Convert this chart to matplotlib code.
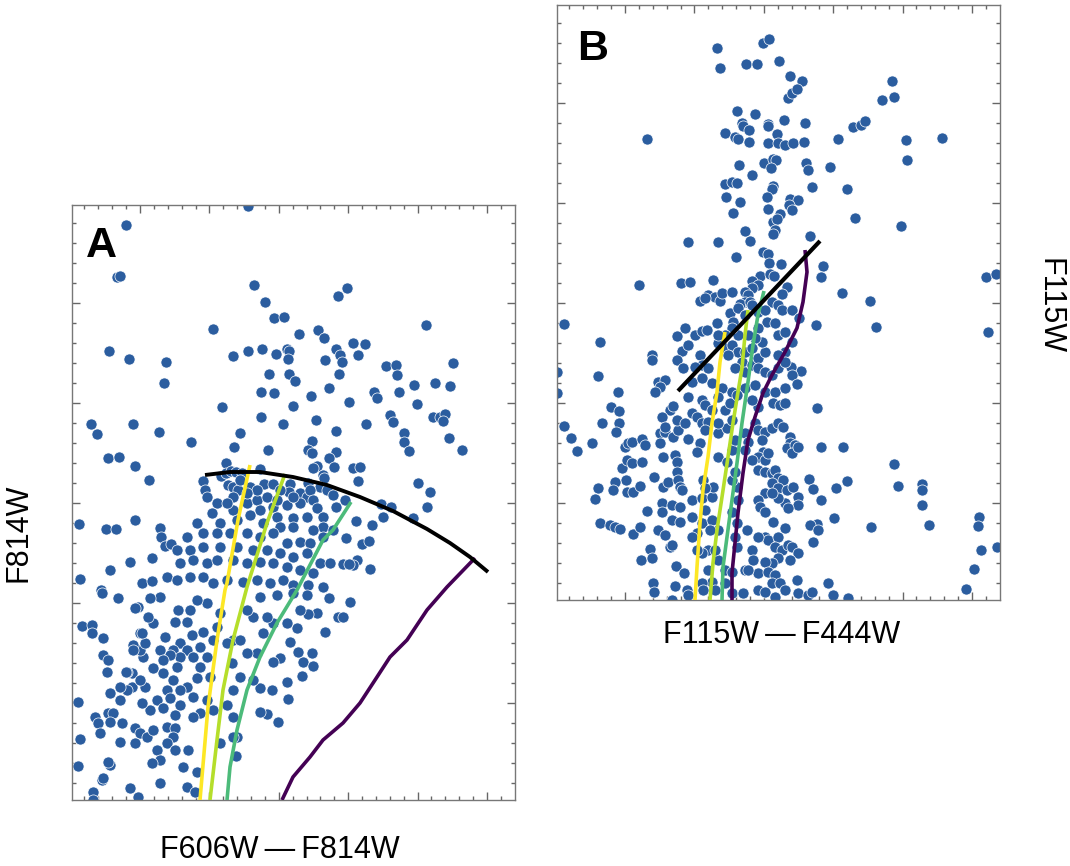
import numpy as np
import matplotlib
matplotlib.use("Agg")
import matplotlib.pyplot as plt
from matplotlib.ticker import FixedLocator, NullFormatter

# ---------------- data (arbitrary units: colour, magnitude) ----------------
pts_a = [
(2.48,19.06),(1.26,19.25),(1.17,19.77),(1.20,19.76),(2.54,19.85),(2.65,20.02),(3.38,19.96),(3.47,19.88),
(2.74,20.18),(2.84,20.17),(2.13,20.29),(2.99,20.34),(3.18,20.30),(3.24,20.38),(4.26,20.25),(1.09,20.51),
(1.29,20.59),(1.66,20.62),(1.64,20.83),(2.33,20.56),(2.48,20.51),(2.62,20.49),(2.76,20.54),(2.87,20.49),
(2.89,20.51),(2.88,20.59),(2.69,20.74),(2.89,20.74),(2.95,20.81),(3.36,20.49),(3.40,20.55),(3.42,20.62),
(3.25,20.60),(3.39,20.74),(3.53,20.43),(3.65,20.44),(3.58,20.55),(3.29,20.88),(3.86,20.66),(3.96,20.65),
(3.97,20.75),(4.14,20.85),(4.35,20.83),(4.50,20.86),(4.53,20.63),(2.61,20.92),(2.74,20.93),(3.11,20.96),
(3.74,20.92),(3.99,20.92),
(3.77,20.98),(2.22,21.07),(2.93,21.06),(3.49,21.02),(4.17,21.04),(0.91,21.24),(0.97,21.34),(1.33,21.24),
(1.59,21.32),(1.91,21.42),(2.61,21.17),(2.83,21.24),(3.16,21.20),(3.66,21.24),(3.90,21.15),(3.93,21.22),
(4.33,21.17),(4.40,21.17),(4.45,21.14),(4.43,21.21),(4.49,21.38),(4.62,21.50),(4.04,21.33),(4.04,21.42),
(4.09,21.51),(3.36,21.31),(3.12,21.41),(3.08,21.50),(3.12,21.53),(3.36,21.52),(3.29,21.58),(2.40,21.33),
(2.34,21.47),(2.68,21.50),(1.08,21.58),(1.19,21.57),(1.35,21.66),(1.49,21.80),(2.26,21.63),(3.17,21.66),
(3.13,21.68),(3.34,21.67),(3.53,21.68),(3.60,21.67),(3.58,21.81),(3.23,21.75),(3.24,21.78),(4.18,21.83),
(4.30,21.92),(4.27,22.07),(3.81,22.04),(3.91,22.07),(3.83,22.17),(4.13,22.18),(0.79,22.24),(1.06,22.29),
(1.16,22.29),(1.35,22.20),(0.80,22.79),(1.10,22.70),(1.30,22.62),(1.52,22.58),(1.42,22.83),(1.52,22.81),
(1.60,22.28),(1.61,22.37),(1.65,22.46),(1.71,22.44),(3.45,22.00),(3.36,22.07),(3.56,22.21),(3.72,22.25),
(3.46,22.38),(3.62,22.44),(3.69,22.41),(3.57,22.60),(3.53,22.65),(3.43,22.64),(3.49,22.64),(3.70,22.69),
(2.03,21.81),(2.21,21.76),(2.26,21.73),(2.31,21.71),(2.36,21.72),(2.42,21.73),(2.60,21.69),(2.28,21.85),
(2.33,21.87),(2.38,21.90),(2.64,21.84),(2.73,21.84),(2.90,21.84),(2.89,21.92),(2.80,21.90),(3.08,21.83),
(3.20,21.87),(3.27,21.90),(3.00,21.93),(3.07,21.97),(3.33,21.95),(3.10,21.90),(2.05,21.90),(2.07,21.97),
(2.17,22.03),(2.12,22.13),(2.33,22.10),(2.47,22.03),(2.57,22.00),(2.60,22.10),(2.73,22.07),(2.87,22.05),
(3.00,22.03),(3.13,22.00),(3.17,22.08),(2.77,22.17),(2.93,22.18),(3.07,22.17),(3.23,22.17),(3.23,22.27),
(3.33,22.30),(3.13,22.30),(2.93,22.27),(2.80,22.27),(2.63,22.23),(2.50,22.15),(2.37,22.20),(2.20,22.23),
(1.97,22.23),(2.03,22.33),(2.17,22.33),(2.30,22.33),(2.47,22.33),(2.60,22.37),(2.73,22.33),(2.87,22.43),
(3.00,22.42),(3.10,22.43),(3.23,22.37),(1.87,22.37),(1.77,22.50),(1.90,22.50),(2.03,22.47),(2.20,22.47),
(2.37,22.47),(2.53,22.50),(2.67,22.50),(2.80,22.53),(2.93,22.57),(3.07,22.53),(3.20,22.63),(3.30,22.63),
(1.80,22.63),(1.93,22.60),(2.07,22.63),(2.17,22.60),(2.33,22.60),(2.47,22.63),(2.60,22.62),(2.73,22.63),
(2.87,22.67),(3.00,22.70),(3.13,22.73),(1.67,22.77),(1.77,22.80),(1.90,22.77),(2.03,22.77),(2.13,22.83),
(2.27,22.80),(2.43,22.82),(2.57,22.80),(2.70,22.83),(2.83,22.80),(2.93,22.85),(3.08,22.85),(3.23,22.87),
(2.40,21.80),(2.50,21.87),(2.57,21.90),(2.47,21.93),(2.33,21.97),(2.27,22.03),(2.67,21.97),(2.77,22.00),
(2.93,21.97),(1.01,22.90),
(3.50,23.02),(3.38,23.17),(3.43,23.17),(3.25,23.32),(3.12,23.53),(3.03,23.62),(3.13,23.66),(3.02,23.76),
(2.98,23.52),(2.87,23.82),(2.88,23.99),(2.78,24.22),(2.67,24.14),(2.60,24.12),(3.29,22.98),(3.17,23.13),
(3.08,23.14),(3.00,23.10),(2.97,23.28),(2.90,23.42),(2.80,23.58),(2.73,23.62),(2.72,23.90),(2.60,23.88),
(2.53,23.80),(2.57,23.53),(2.47,23.53),(2.63,23.33),(2.73,23.23),(2.87,23.23),(2.67,23.17),(2.53,23.17),
(2.47,23.10),(2.60,22.97),(2.77,22.95),(2.93,22.93),(3.07,22.95),(2.33,23.40),(2.40,23.40),(2.27,23.43),
(2.32,23.63),(2.40,23.77),(2.33,23.90),(2.27,24.05),(2.33,24.17),(2.37,24.37),(2.33,24.37),(2.36,24.56),
(2.20,24.43),(2.17,23.27),(2.13,23.40),(2.20,23.13),(2.07,23.03),(1.97,23.00),(1.90,23.10),(1.87,23.22),
(2.03,23.32),(1.92,23.35),(1.80,23.43),(1.73,23.50),(1.87,23.50),(2.00,23.47),(2.07,23.57),(1.93,23.57),
(1.80,23.57),(1.70,23.55),(1.60,23.50),(1.63,23.60),(1.77,23.67),(2.00,23.67),(2.10,23.77),(1.97,23.78),
(1.87,23.87),(1.73,23.80),(1.63,23.73),(1.53,23.68),(1.43,23.57),(1.40,23.50),(1.33,23.45),(1.45,23.43),
(1.65,23.37),(1.53,23.23),(1.40,23.33),(1.75,23.22),(1.78,23.10),(1.60,22.97),(1.48,23.17),(1.38,23.07),
(1.50,22.98),(1.67,23.90),(1.57,24.00),(1.70,23.98),(1.80,23.90),(1.93,23.97),(2.07,24.00),(2.13,24.10),
(2.00,24.13),(1.93,24.17),(1.80,24.05),(1.75,24.15),(1.63,24.08),(1.50,24.10),(1.42,24.03),(1.32,23.87),
(1.45,23.87),(1.32,23.73),(1.40,23.80),(1.27,23.72),(1.10,23.93),(1.20,24.00),(1.08,24.13),(1.13,24.13),
(0.95,24.17),(0.98,24.23),(1.10,24.22),(1.22,24.23),(1.00,24.33),(1.20,24.42),(1.35,24.28),(1.40,24.33),
(1.47,24.37),(1.35,24.43),(1.53,24.30),(1.67,24.27),(1.75,24.28),(1.73,24.37),(1.67,24.43),(1.57,24.50),
(1.60,24.60),(1.52,24.63),(1.75,24.50),(1.88,24.50),(1.83,24.67),(1.97,24.72),(1.87,24.87),(1.95,24.92),
(1.60,24.83),(1.38,24.97),(1.30,24.88),(1.10,24.65),(1.08,24.62),(1.02,24.80),(1.03,24.78),(0.93,24.92),
(0.93,25.00),(0.78,24.66),(0.80,24.39),(0.78,24.02),(0.82,23.26),(0.92,23.25),(0.92,23.33),(1.03,23.38),
(1.03,23.55),(1.08,23.60),(1.07,23.72),(1.26,23.72),(1.33,23.50),(1.42,23.33),(1.35,23.08),(1.18,22.98),
(1.02,22.93),(1.27,23.90),(1.20,23.87),
]

pts_b = [
(2.32,19.48),(2.35,19.68),(2.78,19.43),(2.84,19.39),(2.61,19.64),(2.72,19.64),(2.94,19.61),(3.05,19.76),
(3.17,19.81),(3.03,19.98),(3.07,19.93),(3.12,19.89),(4.07,19.81),(3.97,20.00),(4.09,19.97),(1.62,20.39),
(2.52,20.11),(2.70,20.14),(2.57,20.23),(2.58,20.26),(2.64,20.30),(2.40,20.33),(2.50,20.37),(2.53,20.39),
(2.64,20.42),(2.83,20.24),(2.83,20.26),(2.99,20.20),(3.20,20.23),(2.92,20.34),(2.83,20.43),(2.93,20.43),
(3.00,20.45),(3.08,20.43),(3.19,20.42),(3.53,20.39),(3.68,20.27),(3.76,20.25),(3.80,20.21),(4.21,20.40),
(4.57,20.38),(4.22,20.60),(2.54,20.65),(2.67,20.75),(2.79,20.63),(2.88,20.59),(2.91,20.60),(2.86,20.68),
(3.21,20.63),(3.23,20.70),(3.45,20.67),(2.40,20.84),(2.47,20.82),(2.52,20.83),(2.88,20.86),(2.87,20.89),
(3.27,20.87),(3.62,20.89),(2.41,20.97),(2.82,20.97),(3.05,20.99),(3.13,21.00),(2.55,21.02),
(2.48,21.13),(2.83,21.09),(2.95,21.14),(3.04,21.05),(3.07,21.10),(3.70,21.18),(4.16,21.26),(2.88,21.22),
(2.92,21.19),(2.60,21.31),(2.65,21.41),(2.90,21.30),(2.88,21.34),(2.03,21.42),(2.33,21.42),(3.25,21.36),
(2.51,21.57),(2.78,21.52),(2.83,21.54),(2.84,21.63),(2.96,21.64),(3.38,21.66),(3.36,21.77),(2.75,21.76),
(2.85,21.74),(2.89,21.76),(2.67,21.81),(2.73,21.85),(2.67,21.88),(3.02,21.87),(1.54,21.85),(1.96,21.83),
(2.05,21.82),(2.28,21.80),(2.23,21.95),(2.30,21.97),(2.35,22.01),(2.15,22.01),(2.20,21.98),(2.37,21.93),
(2.47,21.92),(2.60,21.92),(2.63,21.95),(2.60,22.02),(2.55,22.04),(2.65,22.02),(3.57,21.93),(3.85,22.01),
(2.97,21.94),(2.87,22.02),(2.93,22.05),(2.97,22.10),(3.07,22.10),(5.01,21.77),(5.11,21.74),(0.79,22.24),
(1.15,22.42),(1.13,22.76),(1.33,22.92),(0.72,22.72),(1.67,22.55),(1.67,22.60),(1.92,22.36),(2.00,22.28),
(2.10,22.35),(2.17,22.31),(2.22,22.30),(2.32,22.23),(2.45,22.13),(2.48,22.22),(2.53,22.08),(2.60,22.15),
(2.67,22.05),(2.73,22.12),(2.80,22.10),(2.82,22.22),(2.73,22.28),(2.90,22.23),(2.93,22.35),(3.00,22.32),
(3.07,22.42),(3.00,22.52),(2.93,22.55),(3.14,22.18),(3.31,22.25),(3.91,22.27),(5.03,22.32),(3.16,22.71),
(3.06,22.67),(3.07,22.75),(3.12,22.84),(1.97,22.51),(2.03,22.45),(2.15,22.55),(2.17,22.65),(2.23,22.68),
(1.92,22.60),(1.98,22.68),(2.10,22.67),(2.33,22.43),(2.40,22.48),(2.47,22.45),(2.53,22.52),(2.43,22.55),
(2.57,22.62),(2.50,22.68),(2.60,22.72),(2.67,22.65),(2.73,22.58),(2.80,22.52),(2.77,22.42),(2.70,22.38),
(2.63,22.35),(2.53,22.35),(2.47,22.28),(2.40,22.35),(2.33,22.35),(2.60,22.52),(2.67,22.48),(2.73,22.68),
(2.80,22.72),(2.87,22.75),(2.93,22.68),(3.00,22.62),(1.73,22.82),(1.80,22.80),(1.75,22.87),(2.07,22.82),
(2.17,22.78),(2.27,22.83),(2.37,22.88),(2.47,22.92),(2.60,22.88),(2.70,22.85),(2.80,22.92),(2.90,22.92),
(3.00,22.88),(1.70,22.92),
(0.72,22.93),(0.79,23.26),(0.86,23.38),(0.92,23.51),(1.07,23.43),(1.26,23.07),(1.34,23.11),(1.34,23.23),
(1.31,23.32),(1.17,23.23),(1.40,23.47),(1.43,23.43),(1.47,23.42),(1.57,23.39),(1.60,23.45),(1.37,23.68),
(1.42,23.60),(1.47,23.63),(1.57,23.62),(1.41,23.80),(1.30,23.82),(1.28,23.90),(1.13,23.88),(1.10,23.99),
(1.15,24.23),(1.42,23.92),(1.48,23.92),(1.55,23.86),(1.25,24.25),(1.30,24.27),(1.35,24.29),(1.48,24.34),
(1.55,24.27),(1.65,24.49),(1.56,24.60),(1.67,24.58),(1.62,24.11),(1.69,23.77),(1.78,23.87),(1.83,23.82),
(1.77,24.03),(1.87,24.05),(1.95,24.07),(1.77,24.12),(1.73,24.30),(1.80,24.35),(1.87,24.20),(1.95,24.22),
(1.85,24.47),(1.87,24.45),(1.91,24.66),(1.99,24.73),(1.68,24.83),(1.69,24.92),(1.90,24.86),(2.02,24.90),
(2.03,24.95),(1.87,25.00),(1.75,23.33),(1.75,23.43),(1.80,23.32),(1.88,23.37),(1.93,23.30),(2.03,23.39),
(2.15,23.43),(2.12,23.52),(1.78,23.57),(1.90,23.55),(1.92,23.62),(1.92,23.72),(1.93,23.80),(1.95,23.87),
(1.97,23.90),(1.85,23.10),(1.88,23.06),(1.77,23.17),(1.80,23.27),(1.92,23.20),(2.00,23.23),(2.07,23.13),
(2.12,23.17),(2.17,23.23),(2.23,23.22),(2.17,23.00),(2.03,22.97),(2.20,23.05),(2.20,23.30),(2.33,23.33),
(2.07,24.00),(2.17,23.98),(2.27,23.97),(2.20,24.10),(2.07,24.17),(2.17,24.23),(2.12,24.33),(2.07,24.37),
(2.27,24.20),(2.33,24.30),(2.25,24.30),(2.18,23.80),(2.28,23.87),(2.20,23.88),(2.33,23.57),(2.23,24.50),
(2.17,24.53),(2.33,24.60),(2.30,24.50),(2.12,24.50),(2.23,24.70),(2.27,24.82),(2.17,24.83),(2.18,24.90),
(2.30,24.90),(2.40,24.83),(2.40,24.70),(2.47,24.72),(2.47,24.93),(2.58,24.93),(2.60,24.70),(2.52,24.47),
(2.50,24.37),(2.52,24.23),(2.47,24.12),(2.53,24.00),(2.52,23.87),(2.47,23.80),(2.50,23.72),(2.42,23.62),
(2.47,23.50),(2.50,23.40),(2.42,23.28),(2.47,23.20),(2.40,23.10),(2.45,23.03),(2.33,22.97),(2.52,22.95),
(2.33,23.23),(2.27,23.10),(2.70,23.23),(2.73,23.30),(2.80,23.32),(2.87,23.28),(2.93,23.23),(2.98,23.27),
(3.05,23.37),(3.05,23.43),(3.02,23.48),(3.10,23.45),(3.07,23.53),(3.13,23.47),(2.88,23.03),(2.95,23.05),
(3.00,23.03),(2.73,23.07),(2.67,23.00),(2.77,23.40),(2.78,23.52),(2.73,23.57),(2.80,23.60),(2.83,23.53),
(2.73,23.70),(2.80,23.72),(2.87,23.73),(2.90,23.70),(2.93,23.78),(2.98,23.80),(2.87,23.83),(2.93,23.88),
(3.02,23.90),(3.08,23.87),(3.13,23.97),(3.13,24.05),(3.00,24.03),(3.03,24.08),(2.93,23.98),(2.80,23.93),
(2.87,23.93),(2.73,24.00),(2.75,24.07),(2.80,24.12),(2.88,24.22),(3.00,24.28),(2.80,24.37),(2.83,24.40),
(2.93,24.37),(2.90,24.47),(2.97,24.50),(3.03,24.45),(3.07,24.47),(3.13,24.53),(3.05,24.60),(2.93,24.58),
(2.87,24.63),(2.80,24.62),(2.73,24.73),(2.83,24.72),(2.90,24.75),(2.87,24.83),(2.95,24.83),(2.73,24.90),
(2.80,24.92),(2.90,24.97),(3.00,24.90),(3.12,24.80),(3.13,24.93),(3.23,24.95),(3.27,24.92),(3.43,24.83),
(3.48,24.95),(3.63,24.98),(2.60,23.33),(2.63,23.42),(2.60,23.50),(2.67,23.60),(2.73,24.37),(2.67,24.50),
(2.68,24.60),(2.63,24.70),(2.62,24.30),(3.24,23.79),(3.28,23.89),(3.36,24.00),(3.32,24.24),(3.25,24.25),
(3.33,24.30),(3.28,24.42),(3.49,24.18),(3.36,23.47),(3.58,23.47),(3.32,23.08),(3.51,23.88),(3.62,23.81),
(3.86,24.27),(4.09,23.64),(4.13,23.86),(4.37,23.84),(4.37,23.90),(4.37,24.05),(4.44,24.25),(4.94,24.17),
(4.93,24.26),(5.12,24.47),(4.96,24.50),(4.89,24.69),(4.81,24.89),
]

# model curves, panel A
a_edge_x   = [2.05, 2.30, 2.60, 2.93, 3.27, 3.60, 3.93, 4.27, 4.50, 4.70, 4.88]
a_edge_y   = [21.75, 21.72, 21.72, 21.77, 21.85, 21.97, 22.11, 22.29, 22.43, 22.57, 22.72]
a_yel_x    = [2.50, 2.38, 2.27, 2.25, 2.17, 2.08, 2.00]
a_yel_y    = [21.65, 22.20, 22.83, 22.90, 23.40, 24.07, 25.00]
a_lgr_x    = [2.85, 2.67, 2.47, 2.33, 2.23, 2.17, 2.10]
a_lgr_y    = [21.74, 22.23, 22.87, 23.40, 23.90, 24.40, 25.00]
a_grn_x    = [3.51, 3.33, 3.23, 2.97, 2.77, 2.60, 2.47, 2.37, 2.30, 2.27]
a_grn_y    = [22.02, 22.30, 22.40, 22.90, 23.23, 23.57, 23.90, 24.30, 24.67, 25.00]
a_pur_x    = [4.75, 4.47, 4.27, 4.07, 3.90, 3.77, 3.60, 3.43, 3.23, 3.10, 2.93, 2.82]
a_pur_y    = [22.58, 22.87, 23.10, 23.40, 23.57, 23.77, 24.03, 24.23, 24.40, 24.57, 24.77, 25.00]

# model curves, panel B
b_edge_x   = [1.93, 3.35]
b_edge_y   = [22.91, 21.41]
b_yel_x    = [2.40, 2.35, 2.32, 2.27, 2.23, 2.18, 2.15, 2.12, 2.10]
b_yel_y    = [22.32, 22.62, 22.92, 23.23, 23.57, 23.90, 24.23, 24.67, 25.00]
b_lgr_x    = [2.63, 2.60, 2.57, 2.53, 2.48, 2.43, 2.37, 2.32, 2.28, 2.25]
b_lgr_y    = [22.10, 22.35, 22.68, 22.92, 23.23, 23.57, 23.97, 24.30, 24.63, 25.00]
b_grn_x    = [2.79, 2.73, 2.68, 2.63, 2.57, 2.52, 2.47, 2.42, 2.38, 2.37]
b_grn_y    = [21.91, 22.15, 22.45, 22.82, 23.23, 23.63, 24.00, 24.37, 24.67, 25.00]
b_pur_x    = [3.20, 3.22, 3.18, 3.12, 3.00, 2.87, 2.78, 2.70, 2.63, 2.58, 2.53, 2.50, 2.47, 2.47]
b_pur_y    = [21.50, 21.72, 22.02, 22.28, 22.52, 22.75, 22.93, 23.17, 23.40, 23.73, 24.13, 24.43, 24.73, 25.00]

x_label_a = "F606W\u2009\u2014\u2009F814W"
y_label_a = "F814W"
x_label_b = "F115W\u2009\u2014\u2009F444W"
y_label_b = "F115W"

# ---------------- styling ----------------
W, H = 1070, 866
DOT = "#2b5d9f"
C_YEL, C_LGR, C_GRN, C_PUR = "#fde725", "#b5de2b", "#4cbb7a", "#440154"
FONT = ["Liberation Sans", "DejaVu Sans"]
plt.rcParams["font.family"] = FONT

fig = plt.figure(figsize=(W / 100, H / 100), dpi=100)
ax_a = fig.add_axes([72 / W, (H - 800) / H, 443 / W, 595 / H])
ax_b = fig.add_axes([557 / W, (H - 600) / H, 443 / W, 595 / H])

xmaj = 1.40 + 0.694 * np.arange(0, 6)
xmin = 1.40 + 0.1388 * np.arange(-5, 27)
ymaj = 20.03 + np.arange(0, 5)
ymin = 19.03 + 0.2 * np.arange(0, 31)


def style(ax):
    ax.set_xlim(0.72, 5.15)
    ax.set_ylim(25.0, 19.05)
    ax.xaxis.set_major_locator(FixedLocator(xmaj))
    ax.xaxis.set_minor_locator(FixedLocator(xmin))
    ax.yaxis.set_major_locator(FixedLocator(ymaj))
    ax.yaxis.set_minor_locator(FixedLocator(ymin))
    ax.xaxis.set_major_formatter(NullFormatter())
    ax.yaxis.set_major_formatter(NullFormatter())
    ax.tick_params(which="both", direction="in", top=True, right=True,
                   color="#666666", width=1.0)
    ax.tick_params(which="major", length=6)
    ax.tick_params(which="minor", length=3)
    for s in ax.spines.values():
        s.set_color("#777777")
        s.set_linewidth(1.0)


def draw(ax, pts, curves):
    p = np.array(pts)
    ax.scatter(p[:, 0], p[:, 1], s=64, c=DOT, edgecolors="white",
               linewidths=0.5, zorder=2)
    for (xs, ys, col, lw) in curves:
        ax.plot(xs, ys, color=col, lw=lw, solid_capstyle="butt",
                solid_joinstyle="round", zorder=3)


draw(ax_a, pts_a, [
    (a_yel_x, a_yel_y, C_YEL, 2.6),
    (a_lgr_x, a_lgr_y, C_LGR, 2.6),
    (a_grn_x, a_grn_y, C_GRN, 2.6),
    (a_pur_x, a_pur_y, C_PUR, 2.6),
    (a_edge_x, a_edge_y, "black", 2.8),
])
draw(ax_b, pts_b, [
    (b_yel_x, b_yel_y, C_YEL, 2.6),
    (b_lgr_x, b_lgr_y, C_LGR, 2.6),
    (b_grn_x, b_grn_y, C_GRN, 2.6),
    (b_pur_x, b_pur_y, C_PUR, 2.6),
    (b_edge_x, b_edge_y, "black", 3.0),
])
style(ax_a)
style(ax_b)

fs = 22
fig.text(280 / W, 1 - 850 / H, x_label_a, ha="center", va="center", fontsize=fs, family=FONT)
fig.text(782 / W, 1 - 635 / H, x_label_b, ha="center", va="center", fontsize=fs, family=FONT)
fig.text(19 / W, 1 - 533 / H, y_label_a, ha="center", va="center", rotation=90, fontsize=fs, family=FONT)
fig.text(1050 / W, 1 - 306 / H, y_label_b, ha="center", va="center", rotation=270, fontsize=fs, family=FONT)

fig.text(86 / W, 1 - 257 / H, "A", ha="left", va="baseline", fontsize=31, fontweight="bold", family=FONT)
fig.text(577 / W, 1 - 60 / H, "B", ha="left", va="baseline", fontsize=31, fontweight="bold", family=FONT)

fig.savefig("out.png", dpi=100)
